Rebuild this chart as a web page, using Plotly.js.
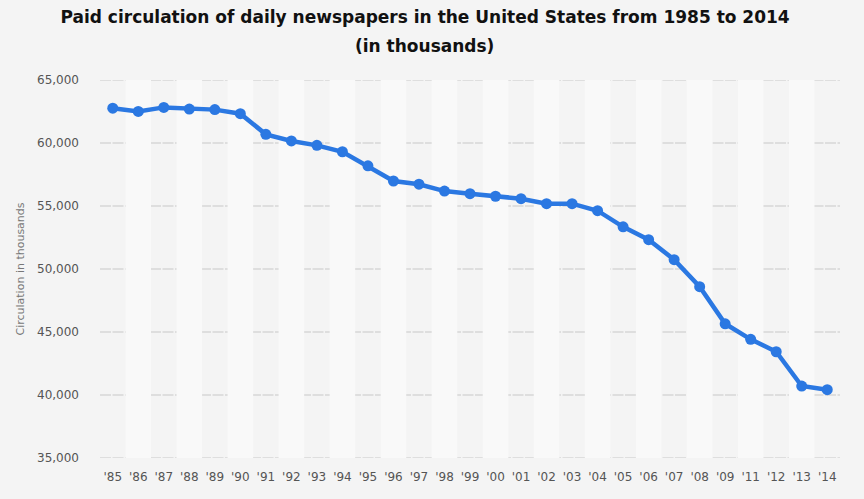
<!DOCTYPE html>
<html>
<head>
<meta charset="utf-8">
<script src="https://cdn.plot.ly/plotly-3.0.1.min.js"></script>
<style>html,body{margin:0;padding:0;background:#f4f4f4;}#chart{width:864px;height:499px;}</style>
</head>
<body>
<div id="chart"></div>
<script>
const years = ["'85","'86","'87","'88","'89","'90","'91","'92","'93","'94","'95","'96","'97","'98","'99","'00","'01","'02","'03","'04","'05","'06","'07","'08","'09","'11","'12","'13","'14"];
const circulation = [62766,62502,62826,62695,62649,62328,60687,60164,59812,59305,58193,56983,56728,56182,55979,55773,55578,55186,55185,54626,53345,52329,50742,48597,45653,44421,43433,40712,40420];
const yTicks = [35000,40000,45000,50000,55000,60000,65000];
const yTickText = ["35,000","40,000","45,000","50,000","55,000","60,000","65,000"];
const yMin = 35000, yMax = 65000;

const shapes = [];
years.forEach((y, i) => {
  if (i % 2 === 1) {
    shapes.push({type:'rect', xref:'x', yref:'y', x0:i-0.5, x1:i+0.5, y0:yMin, y1:yMax,
      fillcolor:'#f9f9f9', line:{width:0}, layer:'between'});
  }
});
yTicks.forEach(v => {
  shapes.push({type:'line', xref:'paper', yref:'y', x0:0, x1:1, y0:v, y1:v,
    line:{color:'#c8c8c8', width:1.2, dash:'11px,1.5px'}, layer:'between'});
});

const trace = {
  x: years, y: circulation, type:'scatter', mode:'lines+markers',
  line:{color:'#2b78e2', width:4.5},
  marker:{color:'#2b78e2', size:11},
  hoverinfo:'skip'
};

const layout = {
  width:864, height:499,
  paper_bgcolor:'#f4f4f4', plot_bgcolor:'#f4f4f4',
  margin:{l:100, r:24, t:80, b:41},
  showlegend:false,
  title:{text:'Paid circulation of daily newspapers in the United States from 1985 to 2014',
    font:{family:'DejaVu Sans', size:17, color:'#111', weight:'bold'},
    x:0.492, xanchor:'center', y:0.965, yanchor:'middle'},
  annotations:[{text:'(in thousands)', xref:'paper', yref:'paper', x:0.439, y:1, yshift:34,
    xanchor:'center', yanchor:'middle', showarrow:false,
    font:{family:'DejaVu Sans', size:17, color:'#111', weight:'bold'}}],
  xaxis:{type:'category', range:[-0.5, years.length-0.5], showgrid:false, zeroline:false,
    showline:false, ticks:'', tickfont:{family:'DejaVu Sans', size:12, color:'#555'},
    ticklabelstandoff:10, fixedrange:true},
  yaxis:{range:[yMin,yMax], tickvals:yTicks, ticktext:yTickText, showgrid:false,
    zeroline:false, showline:false,
    ticks:'', tickfont:{family:'DejaVu Sans', size:12, color:'#555'}, ticklabelstandoff:20,
    title:{text:'Circulation in thousands', font:{family:'DejaVu Sans', size:11, color:'#777'}, standoff:10},
    fixedrange:true},
  shapes: shapes
};

Plotly.newPlot('chart', [trace], layout, {displayModeBar:false, staticPlot:true});
</script>
</body>
</html>
